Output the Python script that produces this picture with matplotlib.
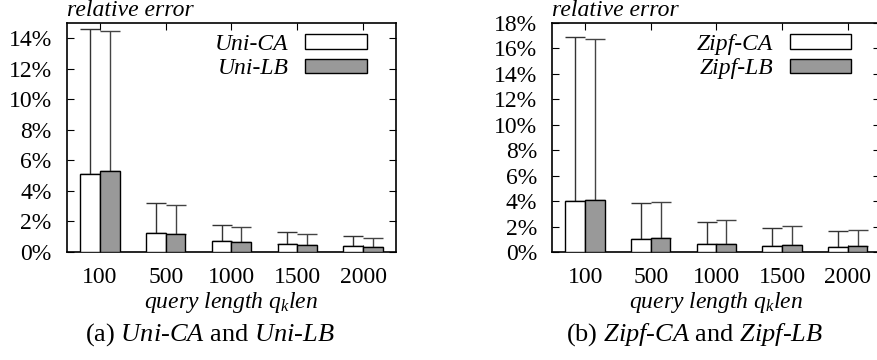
import numpy as np
import matplotlib.pyplot as plt

plt.rcParams['font.family'] = ['Liberation Serif', 'DejaVu Serif']
plt.rcParams['mathtext.fontset'] = 'custom'
plt.rcParams['mathtext.rm'] = 'Liberation Serif'
plt.rcParams['mathtext.it'] = 'Liberation Serif:italic'

# data (relative error in %)
qlen = ['100', '500', '1000', '1500', '2000']

uni_ca = [5.14, 1.22, 0.70, 0.50, 0.37]
uni_ca_err = [14.6, 3.22, 1.78, 1.29, 1.03]
uni_lb = [5.31, 1.18, 0.63, 0.46, 0.35]
uni_lb_err = [14.45, 3.07, 1.65, 1.18, 0.93]

zipf_ca = [4.02, 1.00, 0.60, 0.50, 0.42]
zipf_ca_err = [16.9, 3.82, 2.38, 1.88, 1.65]
zipf_lb = [4.10, 1.07, 0.65, 0.57, 0.47]
zipf_lb_err = [16.75, 3.90, 2.48, 2.04, 1.75]

fig = plt.figure(figsize=(8.78, 3.6), dpi=100)
ax1 = fig.add_axes([67 / 878, 1 - 252 / 360, 329 / 878, 229 / 360])
ax2 = fig.add_axes([552.3 / 878, 1 - 252 / 360, 328.2 / 878, 229 / 360])


def draw(ax, ca, ca_top, lb, lb_top, names, ymax, tmax):
    x = np.arange(len(qlen))
    w = 0.3
    ca_hi = np.array(ca_top) - np.array(ca)
    lb_hi = np.array(lb_top) - np.array(lb)
    ax.bar(x - w / 2, ca, w, color='white', edgecolor='black', linewidth=1.0,
           label=names[0], zorder=3)
    ax.bar(x + w / 2, lb, w, color='#999999', edgecolor='black', linewidth=1.0,
           label=names[1], zorder=3)
    ax.errorbar(x - w / 2, ca, yerr=[np.zeros(len(x)), ca_hi], fmt='none',
                ecolor='#333333', elinewidth=1.0, capsize=7, capthick=1.0, zorder=2)
    ax.errorbar(x + w / 2, lb, yerr=[np.zeros(len(x)), lb_hi], fmt='none',
                ecolor='#444444', elinewidth=1.0, capsize=7, capthick=1.0, zorder=2)
    ax.set_xlim(-0.5, 4.5)
    ax.set_ylim(0, ymax)
    ax.set_xticks(x)
    ax.set_xticklabels(qlen)
    yt = np.arange(0, tmax + 1, 2)
    ax.set_yticks(yt)
    ax.set_yticklabels(['%d%%' % v for v in yt])
    ax.tick_params(direction='in', length=5, top=True, right=True,
                   labelsize=17, width=0.8)
    ax.tick_params(axis='y', pad=11)
    ax.tick_params(axis='x', pad=11)
    for s in ax.spines.values():
        s.set_linewidth(1.2)
    ax.text(0.0, 1.01, 'relative error', transform=ax.transAxes,
            fontsize=17, style='italic', ha='left', va='bottom')
    ax.set_xlabel('query length $q_k$len', fontsize=17, style='italic', labelpad=1)
    leg = ax.legend(loc='upper right', bbox_to_anchor=(0.975, 1.045), frameon=False,
                    markerfirst=False, fontsize=17, handlelength=2.6,
                    handleheight=0.55, labelspacing=0.15, handletextpad=0.7)
    for t in leg.get_texts():
        t.set_style('italic')


draw(ax1, uni_ca, uni_ca_err, uni_lb, uni_lb_err, ['Uni-CA', 'Uni-LB'], 15, 14)
draw(ax2, zipf_ca, zipf_ca_err, zipf_lb, zipf_lb_err, ['Zipf-CA', 'Zipf-LB'], 18, 18)

fig.text(210 / 878, 1 - 335 / 360, r'(a) $\mathit{Uni}$-$\mathit{CA}$ and $\mathit{Uni}$-$\mathit{LB}$',
         fontsize=19, ha='center', va='center')
fig.text(695 / 878, 1 - 335 / 360, r'(b) $\mathit{Zipf}$-$\mathit{CA}$ and $\mathit{Zipf}$-$\mathit{LB}$',
         fontsize=19, ha='center', va='center')

fig.savefig('out.png', dpi=100)
